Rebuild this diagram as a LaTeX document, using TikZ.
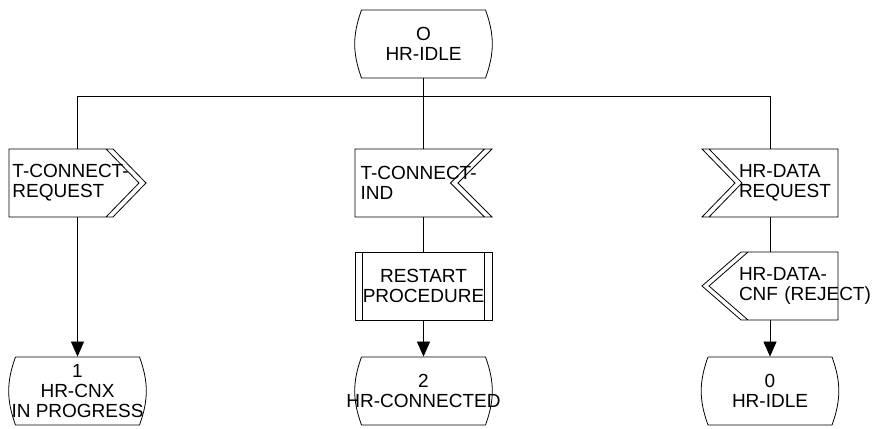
\documentclass[tikz,border=0pt]{standalone}
\usepackage{fontspec}
\setmainfont{Liberation Sans}
\usetikzlibrary{arrows.meta}
\hyphenpenalty=10000
\exhyphenpenalty=10000

\begin{document}
\begin{tikzpicture}[
    x=1pt,
    y=1pt,
    line width=0.8pt,
    every node/.style={font=\fontsize{19}{20}\selectfont},
    sdl/.style={inner sep=0pt, minimum width=137pt, minimum height=68pt},
    state/.style={sdl, align=center, append after command={\pgfextra{\pgfinterruptpath
        \draw[shift={(\tikzlastnode.center)}] (-62,34) -- (62,34) to[out=-70,in=70] (62,-34)
            -- (-62,-34) to[out=110,in=-110] (-62,34);
        \endpgfinterruptpath}}},
    outright/.style={sdl, align=left, append after command={\pgfextra{\pgfinterruptpath
        \draw[shift={(\tikzlastnode.center)}] (-68.5,34) -- (35.5,34) -- (68.5,0) -- (35.5,-34) -- (-68.5,-34) -- cycle
            (28.5,34) -- (61.5,0) -- (28.5,-34);
        \endpgfinterruptpath}}},
    outleft/.style={sdl, align=left, append after command={\pgfextra{\pgfinterruptpath
        \draw[shift={(\tikzlastnode.center)}] (68,34) -- (-29,34) -- (-68,0) -- (-29,-34) -- (68,-34) -- cycle
            (-22,34) -- (-61,0) -- (-22,-34);
        \endpgfinterruptpath}}},
    inright/.style={sdl, align=left, append after command={\pgfextra{\pgfinterruptpath
        \draw[shift={(\tikzlastnode.center)}] (-68.5,34) -- (68.5,34) -- (34.5,0) -- (68.5,-34) -- (-68.5,-34) -- cycle
            (61,34) -- (27,0) -- (61,-34);
        \endpgfinterruptpath}}},
    inleft/.style={sdl, align=left, append after command={\pgfextra{\pgfinterruptpath
        \draw[shift={(\tikzlastnode.center)}] (68,34) -- (-68,34) -- (-35,0) -- (-68,-34) -- (68,-34) -- cycle
            (-61,34) -- (-28,0) -- (-61,-34);
        \endpgfinterruptpath}}},
    procbox/.style={sdl, align=center, append after command={\pgfextra{\pgfinterruptpath
        \draw[shift={(\tikzlastnode.center)}] (-68.5,34) rectangle (68.5,-34)
            (-61,34) -- (-61,-34) (61,34) -- (61,-34);
        \endpgfinterruptpath}}},
    >={Triangle[width=13pt,length=15pt]}
]
    \useasboundingbox (0,0) rectangle (877,428);

    \node[state] (idle) at (423.5,384) {O\\HR-IDLE};
    \coordinate (bus1) at (77.5,332);
    \coordinate (bus2) at (423.5,332);
    \coordinate (bus3) at (770,332);

    \node[outright, text width=130pt] (tcreq) at (77.5,245) {T-CONNECT-\\REQUEST};
    \node[inright, text width=126pt] (tcind) at (423.5,245) {T-CONNECT-\\IND};
    \node[inleft, text width=62pt] (hrreq) at (770,245) {HR-DATA\\REQUEST};
    \node[procbox] (restart) at (423.5,142) {RESTART\\PROCEDURE};
    \node[outleft, text width=62pt] (hrcnf) at (770,142) {HR-DATA-\\CNF~(REJECT)};
    \node[state] (cnx) at (77.5,37) {1\\HR-CNX\\IN PROGRESS};
    \node[state] (conn) at (423.5,37) {2\\HR-CONNECTED};
    \node[state] (idle0) at (770,37) {0\\HR-IDLE};

    \draw (bus1) -- (bus3);
    \draw (idle.south) -- (bus2);
    \draw (bus1) -- (tcreq.north);
    \draw (bus2) -- (tcind.north);
    \draw (bus3) -- (hrreq.north);
    \draw[->] (tcreq.south) -- (cnx.north);
    \draw (tcind.south) -- (restart.north);
    \draw[->] (restart.south) -- (conn.north);
    \draw (hrreq.south) -- (hrcnf.north);
    \draw[->] (hrcnf.south) -- (idle0.north);
\end{tikzpicture}
\end{document}
